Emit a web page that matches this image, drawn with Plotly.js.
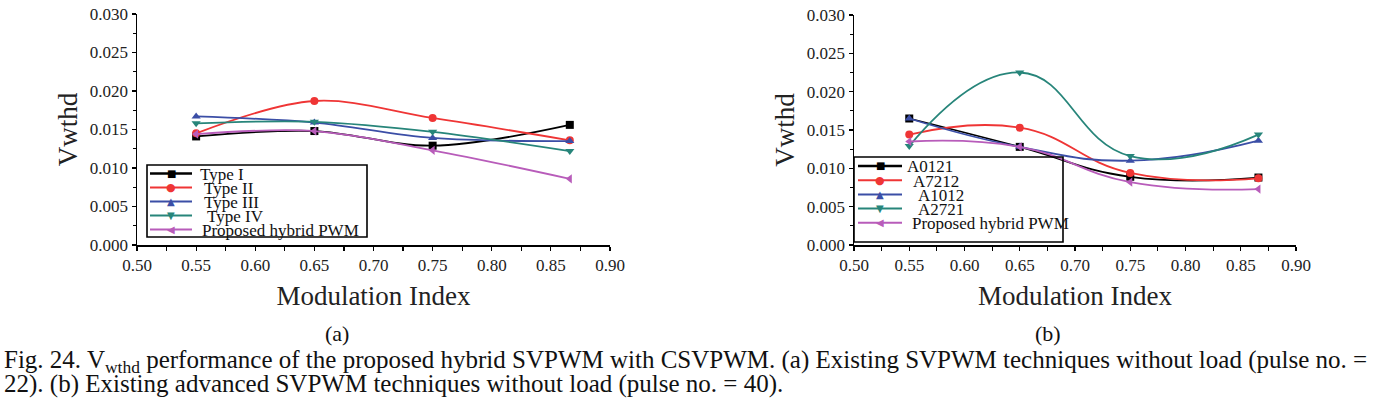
<!DOCTYPE html>
<html>
<head>
<meta charset="utf-8">
<script src="https://cdn.plot.ly/plotly-3.0.1.min.js"></script>
<style>html,body{margin:0;padding:0;background:#fff;}#chart{width:1399px;height:411px;}</style>
</head>
<body>
<div id="chart"></div>
<script>
// ---- data (a): existing SVPWM techniques, pulse no. = 22 ----
var modIndexA = [0.55, 0.65, 0.75, 0.866];
var typeI   = [0.0141, 0.0148, 0.0129, 0.0156];
var typeII  = [0.0145, 0.0187, 0.0165, 0.0136];
var typeIII = [0.0167, 0.0159, 0.0139, 0.0135];
var typeIV  = [0.0158, 0.0160, 0.0147, 0.0122];
var hybridA = [0.0144, 0.0148, 0.0123, 0.0086];

// ---- data (b): existing advanced SVPWM techniques, pulse no. = 40 ----
var modIndexB = [0.55, 0.65, 0.75, 0.866];
var a0121   = [0.0165, 0.0128, 0.0089, 0.0088];
var a7212   = [0.0144, 0.0153, 0.0094, 0.0087];
var a1012   = [0.0165, 0.0128, 0.0110, 0.0136];
var a2721   = [0.0129, 0.0225, 0.0116, 0.0144];
var hybridB = [0.0135, 0.0128, 0.0082, 0.0073];

var namesA = ["Type I", "Type II", "Type III", "Type IV", "Proposed hybrid PWM"];
var namesB = ["A0121", "A7212", "A1012", "A2721", "Proposed hybrid PWM"];
var xTickVals = [0.50, 0.55, 0.60, 0.65, 0.70, 0.75, 0.80, 0.85, 0.90];
var xTickText = ["0.50", "0.55", "0.60", "0.65", "0.70", "0.75", "0.80", "0.85", "0.90"];
var yTickVals = [0, 0.005, 0.010, 0.015, 0.020, 0.025, 0.030];
var yTickText = ["0.000", "0.005", "0.010", "0.015", "0.020", "0.025", "0.030"];

var colors  = ["#000000", "#ef3535", "#3b4ea6", "#27857a", "#b85cba"];
var symbols = ["square", "circle", "triangle-up", "triangle-down", "triangle-left"];
var glyphs  = ["\u25A0", "\u25CF", "\u25B2", "\u25BC", "\u25C0"];

var seriesA = [typeI, typeII, typeIII, typeIV, hybridA];
var seriesB = [a0121, a7212, a1012, a2721, hybridB];

var traces = [];
seriesA.forEach(function (ys, i) {
  traces.push({
    x: modIndexA, y: ys, name: namesA[i], type: "scatter", mode: "lines+markers",
    xaxis: "x", yaxis: "y", showlegend: false,
    line: {color: colors[i], width: 1.8, shape: "spline", smoothing: 1},
    marker: {color: colors[i], symbol: symbols[i], size: 8}
  });
});
seriesB.forEach(function (ys, i) {
  traces.push({
    x: modIndexB, y: ys, name: namesB[i], type: "scatter", mode: "lines+markers",
    xaxis: "x2", yaxis: "y2", showlegend: false,
    line: {color: colors[i], width: 1.8, shape: "spline", smoothing: 1.3},
    marker: {color: colors[i], symbol: symbols[i], size: 8}
  });
});

var W = 1399, H = 411;
function px(v) { return v / W; }
function py(v) { return (H - v) / H; }

var serif = "Liberation Serif, Times New Roman, serif";
var tickFont = {family: serif, size: 17, color: "#222"};
var titleFont = {family: serif, size: 27, color: "#222"};

function xAxis(domain, anchor) {
  return {
    domain: domain, anchor: anchor, range: [0.5, 0.9],
    tickmode: "array", tickvals: xTickVals, ticktext: xTickText,
    ticks: "outside", ticklen: 4, tickwidth: 1.2, tickcolor: "#000",
    minor: {dtick: 0.025, tick0: 0.5, ticks: "outside", ticklen: 4, tickwidth: 1.2, tickcolor: "#000", showgrid: false},
    showline: true, linecolor: "#000", linewidth: 2, showgrid: false, zeroline: false,
    tickfont: tickFont,
    title: {text: "Modulation Index", font: titleFont, standoff: 12}
  };
}
function yAxis(domain, anchor) {
  return {
    domain: domain, anchor: anchor, range: [0, 0.030],
    tickmode: "array", tickvals: yTickVals, ticktext: yTickText,
    ticks: "outside", ticklen: 4, tickwidth: 1.2, tickcolor: "#000",
    minor: {dtick: 0.0025, tick0: 0, ticks: "outside", ticklen: 3, tickwidth: 1.2, tickcolor: "#000", showgrid: false},
    showline: true, linecolor: "#000", linewidth: 1.5, showgrid: false, zeroline: false,
    tickfont: tickFont,
    title: {text: "Vwthd", font: titleFont, standoff: 4}
  };
}

// ---- hand-built compact legends (box, sample line, marker glyph, label) ----
var shapes = [];
var annotations = [];
function buildLegend(names, box, lineX0, lineX1, firstY, stepY, textX) {
  shapes.push({type: "rect", xref: "paper", yref: "paper", layer: "above",
    x0: px(box[0]), x1: px(box[1]), y0: py(box[3]), y1: py(box[2]),
    line: {color: "#000", width: 1.6}, fillcolor: "rgba(0,0,0,0)"});
  names.forEach(function (nm, i) {
    var yy = firstY + i * stepY;
    shapes.push({type: "line", xref: "paper", yref: "paper", layer: "above",
      x0: px(lineX0), x1: px(lineX1), y0: py(yy), y1: py(yy),
      line: {color: colors[i], width: i === 0 ? 2.6 : 2}});
    annotations.push({text: glyphs[i], x: px((lineX0 + lineX1) / 2), y: py(yy),
      xref: "paper", yref: "paper", xanchor: "center", yanchor: "middle", showarrow: false,
      font: {family: "DejaVu Sans", size: i === 1 ? 11 : 10, color: colors[i]}});
    annotations.push({text: nm, x: px(textX[i]), y: py(yy + 1), xref: "paper", yref: "paper",
      xanchor: "left", yanchor: "middle", showarrow: false,
      font: {family: serif, size: 17, color: "#111"}});
  });
}
buildLegend(namesA, [147, 367, 165, 237], 150, 192, 173.5, 14, [198, 202, 202, 205, 200]);
buildLegend(namesB, [854, 1063, 157, 242], 858, 902, 166, 14.2, [905, 911, 916, 916, 910]);

var captionFont = {family: serif, size: 25, color: "#111"};
annotations.push(
  {text: "(a)", x: px(337), y: py(333), xref: "paper", yref: "paper", xanchor: "center", yanchor: "middle", showarrow: false, font: {family: serif, size: 22, color: "#111"}},
  {text: "(b)", x: px(1048), y: py(333), xref: "paper", yref: "paper", xanchor: "center", yanchor: "middle", showarrow: false, font: {family: serif, size: 22, color: "#111"}},
  {text: "Fig. 24. V<sub>wthd</sub> performance of the proposed hybrid SVPWM with CSVPWM. (a) Existing SVPWM techniques without load (pulse no. =",
   x: px(2), y: py(361), xref: "paper", yref: "paper", xanchor: "left", yanchor: "middle", showarrow: false, font: captionFont},
  {text: "22). (b) Existing advanced SVPWM techniques without load (pulse no. = 40).",
   x: px(2), y: py(384), xref: "paper", yref: "paper", xanchor: "left", yanchor: "middle", showarrow: false, font: captionFont}
);

var layout = {
  width: W, height: H,
  margin: {l: 0, r: 0, t: 0, b: 0},
  paper_bgcolor: "#fff", plot_bgcolor: "rgba(0,0,0,0)",
  showlegend: false,
  xaxis: xAxis([px(137), px(610)], "y"),
  yaxis: yAxis([py(245), py(14)], "x"),
  xaxis2: xAxis([px(854), px(1296)], "y2"),
  yaxis2: yAxis([py(245), py(15)], "x2"),
  shapes: shapes,
  annotations: annotations
};

Plotly.newPlot("chart", traces, layout, {displayModeBar: false, staticPlot: true});
</script>
</body>
</html>
